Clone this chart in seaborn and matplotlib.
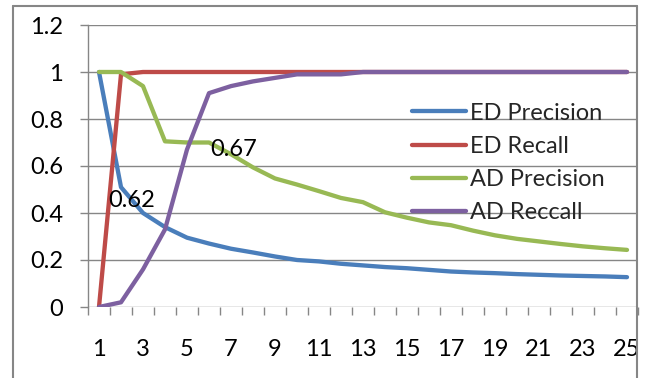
import numpy as np
import pandas as pd
import matplotlib
matplotlib.use("Agg")
import matplotlib.pyplot as plt
from matplotlib.lines import Line2D
import seaborn as sns

# values
steps = list(range(1, 26))
ed_precision = [1.0, 0.51, 0.40, 0.34, 0.295, 0.27, 0.248, 0.232, 0.215, 0.20,
                0.194, 0.184, 0.177, 0.17, 0.165, 0.158, 0.151, 0.147, 0.144, 0.14,
                0.137, 0.134, 0.132, 0.13, 0.127]
ed_recall = [0.0, 0.99] + [1.0] * 23
ad_precision = [1.0, 1.0, 0.94, 0.705, 0.70, 0.70, 0.65, 0.594, 0.547, 0.521,
                0.493, 0.464, 0.446, 0.403, 0.38, 0.36, 0.348, 0.325, 0.305, 0.29,
                0.279, 0.268, 0.258, 0.25, 0.243]
ad_recall = [0.0, 0.02, 0.16, 0.33, 0.67, 0.91, 0.94, 0.96, 0.975, 0.99,
             0.99, 0.99] + [1.0] * 13
series_names = ["ED Precision", "ED Recall", "AD Precision", "AD Reccall"]
colors = ["#4A7EBB", "#BE4B48", "#98B954", "#7D60A0"]
data_labels = [("0.62", 2.49, 0.453), ("0.67", 7.1, 0.669)]

df = pd.DataFrame({"step": steps,
                   series_names[0]: ed_precision,
                   series_names[1]: ed_recall,
                   series_names[2]: ad_precision,
                   series_names[3]: ad_recall})
long_df = df.melt(id_vars="step", var_name="series", value_name="value")

sns.set_style("white")
plt.rcParams["font.family"] = ["Lato", "DejaVu Sans"]
fs = 17

fig = plt.figure(figsize=(6.5, 3.78), dpi=100)
ax = fig.add_axes([88 / 650, 1 - 307 / 378, 550 / 650, 282 / 378])

sns.lineplot(data=long_df, x="step", y="value", hue="series",
             hue_order=series_names, palette=colors, linewidth=3.1,
             solid_capstyle="round", ax=ax)

grid_col = "#868686"
ax.set_xlim(0.5, 25.5)
ax.set_ylim(0, 1.2)
ax.set_yticks(np.arange(0, 1.21, 0.2))
ax.set_yticklabels(["0", "0.2", "0.4", "0.6", "0.8", "1", "1.2"])
ax.set_xticks(steps[::2])
ax.set_xticks(np.arange(0.5, 26, 1), minor=True)
ax.grid(axis="y", color=grid_col, linewidth=1.0)
ax.set_axisbelow(True)
for s in ["top", "right", "bottom"]:
    ax.spines[s].set_visible(False)
ax.spines["left"].set_color(grid_col)
ax.spines["left"].set_linewidth(1.0)
ax.tick_params(axis="y", which="major", length=6, width=1.0, color=grid_col,
               pad=12, labelsize=fs, labelcolor="black", left=True)
ax.tick_params(axis="x", which="major", length=0, pad=23, labelsize=fs,
               labelcolor="black", bottom=True)
ax.tick_params(axis="x", which="minor", length=6, width=1.0, color=grid_col,
               bottom=True, direction="out")
ax.set_xlabel("")
ax.set_ylabel("")

for txt, xv, yv in data_labels:
    ax.text(xv, yv, txt, fontsize=fs, ha="center", va="center", color="black")

leg = ax.legend(loc="upper left", bbox_to_anchor=(0.589, 0.725), frameon=False,
                fontsize=fs, handlelength=2.3, handletextpad=0.17,
                labelspacing=0.52, borderpad=0, borderaxespad=0)
for h in leg.get_lines():
    h.set_linewidth(3.1)
    h.set_solid_capstyle("round")

# outer chart frame (clipped at the bottom like the reference)
frame_kw = dict(color=grid_col, linewidth=1.5, transform=fig.transFigure)
fig.add_artist(Line2D([13 / 650, 13 / 650], [-0.1, 1 - 6 / 378], **frame_kw))
fig.add_artist(Line2D([13 / 650, 637 / 650], [1 - 6 / 378, 1 - 6 / 378], **frame_kw))
fig.add_artist(Line2D([637 / 650, 637 / 650], [-0.1, 1 - 6 / 378], **frame_kw))

fig.savefig("out.png", dpi=100)
